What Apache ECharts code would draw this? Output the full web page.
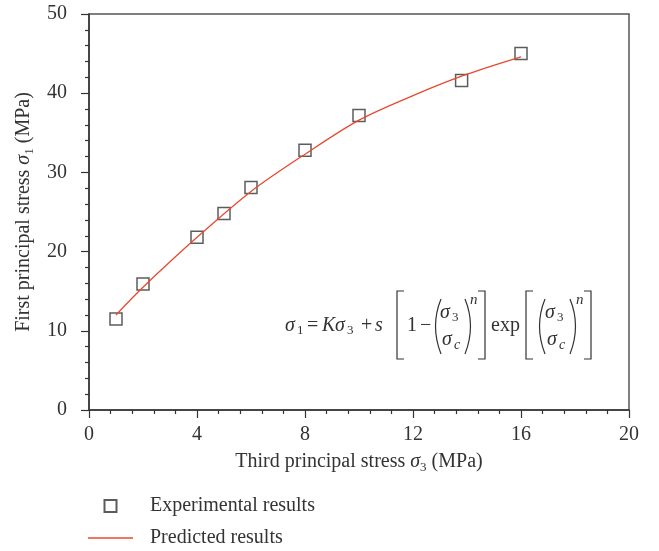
<!DOCTYPE html>
<html>
<head>
<meta charset="utf-8">
<script src="https://cdn.jsdelivr.net/npm/echarts@6/dist/echarts.min.js"></script>
<style>
  html, body { margin: 0; padding: 0; background: #fff; }
  #chart { width: 659px; height: 551px; }
</style>
</head>
<body>
<div id="chart"></div>
<script>
// 实验数据 (σ3, σ1)
const sigma3Exp = [1, 2, 4, 5, 6, 8, 10, 13.8, 16]
const sigma1Exp = [11.5, 15.9, 21.8, 24.8, 28.1, 32.8, 37.2, 41.6, 45.0]
// 预测曲线
const sigma3Pred = [1, 2, 4, 6, 8, 10, 12, 14, 16]
const sigma1Pred = [12.0, 15.5, 21.8, 27.6, 32.3, 36.6, 39.7, 42.4, 44.6]
const seriesNames = ['Experimental results', 'Predicted results']

const FONT = 'Liberation Serif'
const INK = '#333'
const RED = '#e8492e'

const myChart = echarts.init(document.getElementById('chart'))

// 公式中的小段文字
function txt (x, y, text, size, italic) {
  return {
    type: 'text', x: x, y: y, silent: true,
    style: {
      text: text, fill: INK, fontFamily: FONT, fontSize: size,
      fontStyle: italic ? 'italic' : 'normal', textVerticalAlign: 'middle'
    }
  }
}
function bracket (x, dir) {
  return {
    type: 'polyline', silent: true,
    shape: { points: [[x + 7 * dir, 291], [x, 291], [x, 359], [x + 7 * dir, 359]] },
    style: { stroke: INK, lineWidth: 1.2, fill: null }
  }
}
function paren (x, dir) {
  return {
    type: 'bezierCurve', silent: true,
    shape: { x1: x, y1: 299, x2: x, y2: 354, cpx1: x - 11 * dir, cpy1: 326 },
    style: { stroke: INK, lineWidth: 1.2, fill: null }
  }
}
// σ3 / σc 分式
function frac (x) {
  return [
    txt(x, 313, 'σ', 20, true),
    txt(x + 12, 318, '3', 13, false),
    txt(x + 2, 340, 'σ', 20, true),
    txt(x + 14, 345, 'c', 14, true)
  ]
}

const formula = [
  txt(285, 326, 'σ', 20, true),
  txt(297, 331, '1', 13, false),
  txt(307, 326, '=', 20, false),
  txt(322, 326, 'K', 20, true),
  txt(335, 326, 'σ', 20, true),
  txt(347, 331, '3', 13, false),
  txt(361, 326, '+', 20, false),
  txt(375, 326, 's', 20, true),
  bracket(397, 1),
  txt(407, 326, '1', 20, false),
  txt(420, 326, '−', 20, false),
  paren(441, 1)
].concat(frac(440), [
  paren(465, -1),
  txt(470, 300, 'n', 15, true),
  bracket(485, -1),
  txt(491, 326, 'exp', 20, false),
  bracket(526, 1),
  paren(545, 1)
], frac(545), [
  paren(570, -1),
  txt(576, 300, 'n', 15, true),
  bracket(591, -1)
])

const axisText = { fontFamily: FONT, fontSize: 20, color: INK }
const nameStyle = {
  fontFamily: FONT, fontSize: 20, color: INK, lineHeight: 24,
  rich: {
    i: { fontStyle: 'italic', fontFamily: FONT, fontSize: 20, color: INK, lineHeight: 24 },
    sub: { fontFamily: FONT, fontSize: 13, color: INK, lineHeight: 13, verticalAlign: 'bottom' }
  }
}

const option = {
  animation: false,
  grid: {
    left: 89, top: 14, right: 30, bottom: 141,
    show: true, borderColor: '#555', borderWidth: 1.5
  },
  legend: {
    orient: 'vertical', left: 88, top: 495, padding: 0,
    itemWidth: 45, itemHeight: 12, itemGap: 10,
    textStyle: { fontFamily: FONT, fontSize: 20, color: INK, lineHeight: 22, padding: [0, 0, 0, 12] },
    data: [
      { name: seriesNames[0], icon: 'path://M0,0H10V10H0Z' },
      { name: seriesNames[1], icon: 'path://M0,0H45V1.4H0Z' }
    ]
  },
  xAxis: {
    type: 'value', min: 0, max: 20, interval: 4,
    name: 'Third principal stress {i|σ}{sub|3} (MPa)',
    nameLocation: 'middle', nameGap: 40,
    nameTextStyle: nameStyle,
    axisLine: { lineStyle: { color: INK, width: 1.5 } },
    axisTick: { inside: false, length: 8, lineStyle: { color: INK, width: 1.2 } },
    minorTick: { show: true, splitNumber: 5, length: 4, lineStyle: { color: INK, width: 1.2 } },
    axisLabel: Object.assign({ margin: 15 }, axisText),
    splitLine: { show: false }
  },
  yAxis: {
    type: 'value', min: 0, max: 50, interval: 10,
    name: 'First principal stress {i|σ}{sub|1} (MPa)',
    nameLocation: 'middle', nameGap: 52,
    nameTextStyle: nameStyle,
    axisLine: { show: true, lineStyle: { color: INK, width: 1.5 } },
    axisTick: { show: true, inside: false, length: 8, lineStyle: { color: INK, width: 1.2 } },
    minorTick: { show: true, splitNumber: 5, length: 4, lineStyle: { color: INK, width: 1.2 } },
    axisLabel: Object.assign({ margin: 22 }, axisText),
    splitLine: { show: false }
  },
  series: [
    {
      name: seriesNames[1],
      type: 'line',
      smooth: 0.3,
      symbol: 'none',
      lineStyle: { color: RED, width: 1.3 },
      itemStyle: { color: RED },
      data: sigma3Pred.map((x, i) => [x, sigma1Pred[i]])
    },
    {
      name: seriesNames[0],
      type: 'scatter',
      symbol: 'rect',
      symbolSize: 12,
      itemStyle: { color: 'rgba(0,0,0,0)', borderColor: INK, borderWidth: 1.5 },
      data: sigma3Exp.map((x, i) => [x, sigma1Exp[i]])
    }
  ],
  graphic: formula
}
myChart.setOption(option)
window.addEventListener('resize', function () { myChart.resize() })
</script>
</body>
</html>
